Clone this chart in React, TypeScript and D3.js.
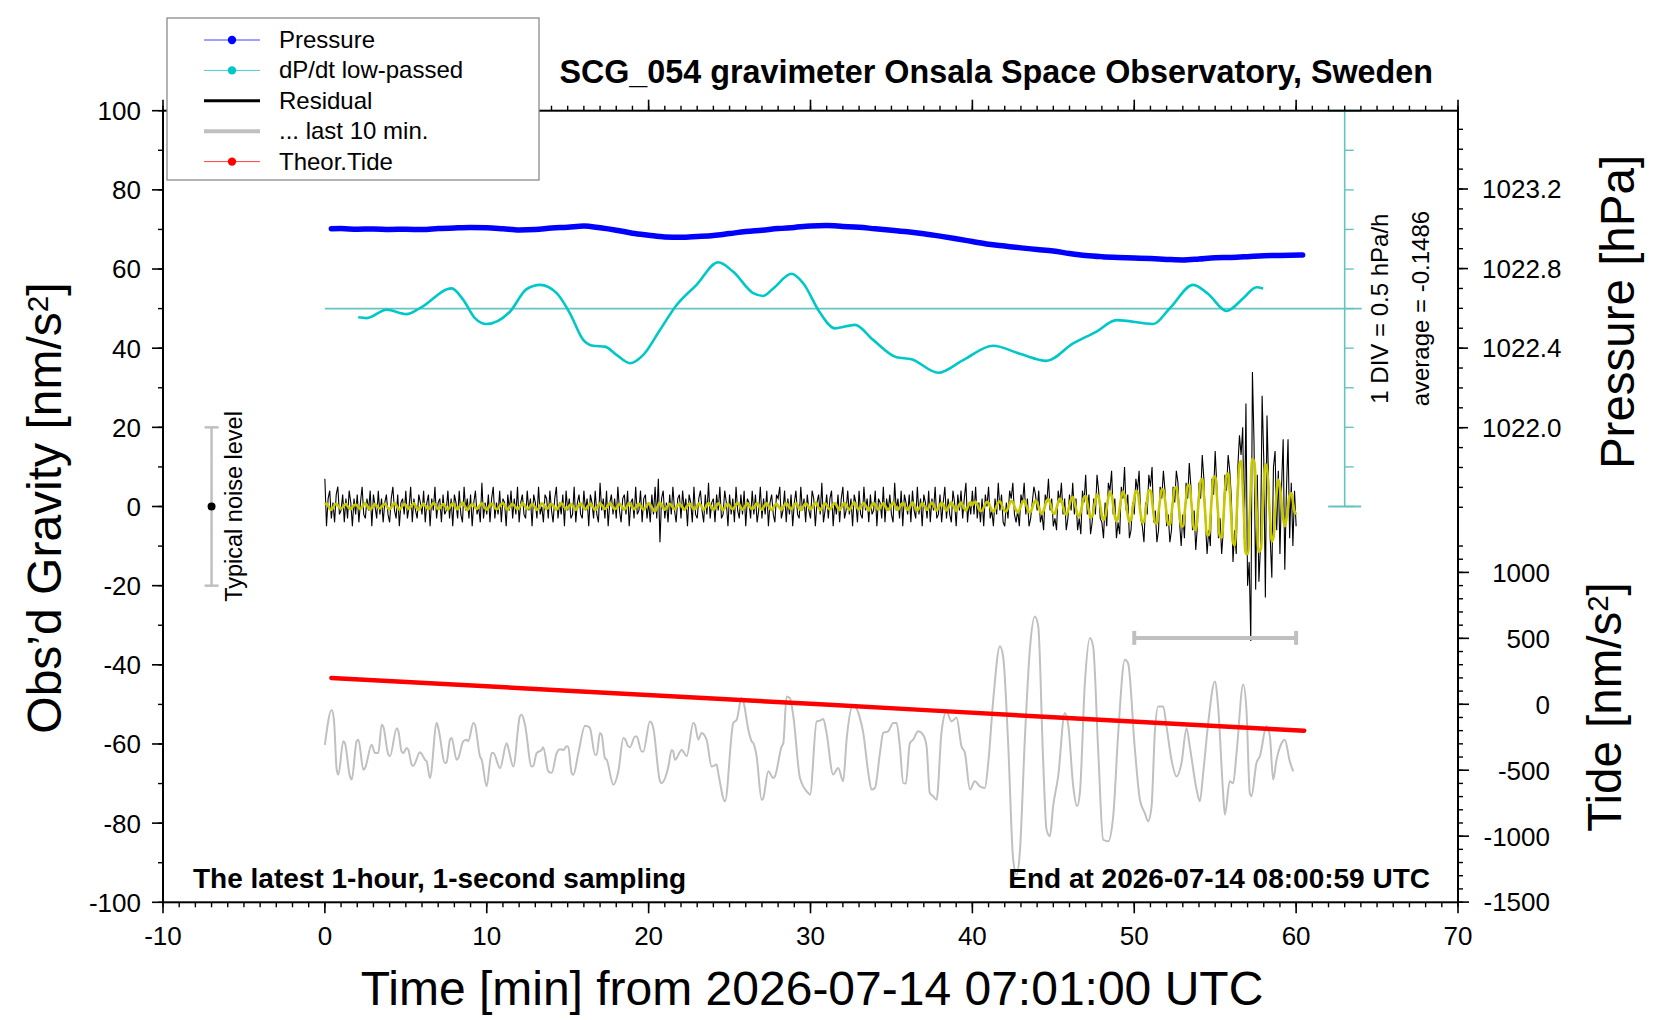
import React from "react";
import * as d3 from "d3";

// ---- data ----

// residual gravity [nm/s^2], one value per 0.1 min from 0 to 60 min
const residualStep = 0.1;
const residual = [
  7, -5, 2, 4, -3, 1, -4, 3, 5, -2, -1, 3, -4, 2, -3, 4, 1, -5, 2, -2,
  3, -4, 1, 5, -2, -3, 2, -1, 4, -5, 3, 0, -3, 4, -2, 2, -4, 1, 3, -2,
  -4, 2, 5, -1, -3, 3, -5, 1, 2, -2, 4, -3, 0, 5, -4, 2, -1, -3, 3, 1,
  -2, 4, -4, 1, 3, -5, 2, -1, 5, -3, 1, 2, -4, 3, -2, -1, 4, -3, 2, -5,
  3, 1, -3, 4, -2, -4, 5, -1, 2, -3, 3, -5, 1, 4, -2, 0, -4, 6, -3, 1,
  -2, 3, -4, 2, 5, -3, 1, -2, 4, -4, 2, 1, -5, 3, -1, 4, -3, 2, -2, 5,
  -4, 1, 3, -2, -3, 4, -1, 2, -5, 3, 1, -3, 5, -2, 0, -4, 3, 2, -3, 4,
  -1, -4, 2, 5, -3, 1, -2, 3, -5, 4, -1, 2, -3, -2, 5, -4, 1, 3, -2, -3,
  4, -1, 2, -5, 3, 1, -3, 4, -2, -4, 6, -1, 2, -3, 4, -5, 1, 3, -2, 2,
  -3, 5, -1, -4, 2, 3, -2, 4, -5, 1, 2, -3, 5, -2, -1, 4, -4, 2, 3, -3,
  1, -4, 3, -2, 5, -3, 7, -9, 2, 4, -3, 1, -4, 3, -2, 5, -1, -4, 2, 3,
  -3, 4, -1, 2, -5, 3, 1, -4, 5, -2, -3, 2, 4, -1, -4, 3, -2, 6, -3, 1,
  2, -4, 3, -1, 5, -3, -2, 4, 1, -5, 3, -2, 2, -4, 5, -1, -3, 3, -2, 4,
  -5, 2, 1, -3, 4, -2, 3, -4, -1, 5, -3, 2, -2, 4, -5, 1, 3, -2, -4, 3,
  2, 5, -3, -1, 4, -4, 2, -2, 3, -5, 1, 4, -2, -3, 5, -1, 2, -4, 3, -1,
  -3, 4, 2, -5, 1, 3, -2, 6, -4, -1, 3, -3, 2, 4, -5, 1, -2, 3, -4, 2,
  5, -3, -1, 4, -2, 2, -5, 3, 1, -4, 4, -2, -3, 5, -1, 2, -4, 3, -2, -1,
  4, -5, 2, 1, -3, 5, -4, 2, -1, 3, -2, -4, 6, -1, 2, -3, 4, -5, 3, 1,
  -2, 3, -4, 4, -1, -3, 5, -2, 2, -5, 3, 1, -3, 4, -4, 2, -1, 5, -3, -2,
  3, -4, 1, 5, -3, 2, -2, -4, 4, 1, -5, 3, -1, 4, -3, 2, 6, -4, 1, -2,
  4, -2, 5, -3, 1, -4, 2, -5, 3, 0, 5, -3, -1, -5, 2, -2, 6, -1, 3, -4,
  -5, 1, -3, 4, 2, 6, -2, -4, -1, -5, 3, 1, 6, -2, 2, -5, -3, 1, 5, 3,
  -1, 4, -4, -2, -6, 3, 1, 7, -1, 2, -5, -3, -6, 4, 1, 6, -2, 2, -6, -3,
  3, -1, 6, -2, 2, -6, -3, -7, 4, 1, 8, -2, 3, -7, -4, 2, -2, 8, 4, -3,
  -4, -8, 1, -5, 6, 4, 9, -2, 2, -8, -4, -7, 5, 2, 10, -1, 3, -8, -6, 1,
  -2, 7, 4, 9, -3, -5, -9, 1, -2, 8, 5, 10, -4, -1, -9, -6, 5, 2, 9, 4,
  -5, -2, -9, -6, 5, 1, 9, 6, -4, -10, -2, -8, 6, 2, 11, 5, -6, -1, -11, -5,
  6, 2, 13, 7, -4, -12, -6, -10, 7, 3, 14, 5, -8, -3, -12, -6, 8, 4, 13, 9,
  2, -14, -6, -12, 10, 18, 13, 20, -8, 26, -20, -14, -34, 34, 16, -21, 8, -19, -10, 28,
  12, -23, 23, 6, -8, -18, 10, 14, -6, 9, -12, 5, 17, -16, 4, 17, -8, 6, -10, 4,
  -5,
];

// low-passed residual (yellow), same time step
const lowPassed = [
  0.5, 0.8, 0.2, -0.6, -0.9, -0.3, 0.4, 0.7, 0.3, -0.2, -0.5, -0.2, 0.3, 0.6, 0.1, -0.4, -0.7, -0.2, 0.3, 0.5,
  0.2, -0.3, -0.6, -0.1, 0.5, 0.8, 0.3, -0.4, -0.8, -0.3, 0.3, 0.6, 0.2, -0.3, -0.5, 0.0, 0.4, 0.7, 0.2, -0.4,
  -0.7, -0.2, 0.4, 0.9, 0.4, -0.3, -0.8, -0.4, 0.2, 0.6, 0.3, -0.2, -0.6, -0.1, 0.5, 0.8, 0.2, -0.5, -0.9, -0.3,
  0.4, 0.7, 0.2, -0.3, -0.6, -0.2, 0.3, 0.9, 0.5, -0.2, -0.7, -0.4, 0.2, 0.6, 0.3, -0.3, -0.8, -0.3, 0.4, 0.8,
  0.3, -0.4, -0.7, -0.2, 0.5, 1.0, 0.4, -0.3, -0.9, -0.5, 0.2, 0.7, 0.3, -0.2, -0.6, -0.1, 0.4, 0.8, 0.3, -0.4,
  -0.8, -0.3, 0.3, 0.7, 0.4, -0.2, -0.7, -0.5, 0.1, 0.6, 0.9, 0.3, -0.4, -0.8, -0.2, 0.4, 0.6, 0.2, -0.3, -0.7,
  -0.3, 0.3, 0.8, 0.5, -0.1, -0.6, -0.4, 0.2, 0.7, 0.3, -0.3, -0.9, -0.5, 0.2, 0.8, 0.6, -0.1, -0.6, -0.3, 0.3,
  0.7, 0.3, -0.3, -0.8, -0.4, 0.3, 0.9, 0.5, -0.2, -0.7, -0.3, 0.2, 0.6, 0.2, -0.4, -0.8, -0.3, 0.4, 0.8, 0.3,
  -0.3, -0.7, -0.2, 0.4, 0.7, 0.2, -0.4, -0.9, -0.4, 0.3, 0.8, 0.4, -0.2, -0.6, -0.3, 0.3, 0.9, 0.5, -0.2, -0.7,
  -0.4, 0.2, 0.6, 0.3, -0.3, -0.8, -0.4, 0.3, 0.9, 0.4, -0.3, -0.7, -0.2, 0.4, 0.7, 0.2, -0.4, -0.8, -0.3, 0.3,
  0.8, 0.4, -0.2, -0.9, -1.2, -0.5, 0.4, 1.0, 0.5, -0.3, -0.8, -0.4, 0.3, 0.7, 0.3, -0.3, -0.7, -0.2, 0.4, 0.8,
  0.3, -0.3, -0.8, -0.4, 0.2, 0.7, 0.5, -0.1, -0.7, -0.5, 0.2, 0.8, 0.4, -0.3, -0.8, -0.3, 0.4, 0.9, 0.4, -0.3,
  -0.8, -0.4, 0.3, 0.8, 0.3, -0.4, -0.9, -0.3, 0.4, 0.7, 0.2, -0.4, -0.7, -0.2, 0.5, 0.9, 0.4, -0.3, -0.8, -0.3,
  0.3, 0.8, 0.4, -0.3, -0.7, -0.3, 0.4, 0.9, 0.3, -0.4, -0.8, -0.2, 0.5, 0.8, 0.2, -0.5, -0.9, -0.3, 0.4, 0.7,
  0.2, -0.4, -0.8, -0.3, 0.4, 0.9, 0.4, -0.3, -0.7, -0.2, 0.4, 0.8, 0.3, -0.4, -0.9, -0.4, 0.3, 0.8, 0.4, -0.2,
  -0.7, -0.3, 0.4, 1.0, 0.5, -0.3, -0.9, -0.4, 0.3, 0.8, 0.3, -0.4, -0.8, -0.2, 0.5, 0.9, 0.3, -0.4, -0.9, -0.3,
  0.4, 0.9, 0.4, -0.4, -0.9, -0.3, 0.5, 1.0, 0.4, -0.4, -0.8, -0.2, 0.5, 0.9, 0.3, -0.5, -1.0, -0.4, 0.4, 0.9,
  0.4, -0.3, -0.8, -0.3, 0.4, 0.8, 0.2, -0.5, -0.9, -0.3, 0.5, 1.0, 0.4, -0.4, -0.9, -0.3, 0.5, 0.9, 0.3, -0.4,
  -0.9, -0.4, 0.4, 1.0, 0.5, -0.4, -1.0, -0.5, 0.3, 0.9, 0.4, -0.4, -0.9, -0.3, 0.5, 1.0, 0.4, -0.5, -1.0, -0.4,
  0.4, 1.0, 0.5, -0.4, -1.0, -0.4, 0.5, 1.1, 0.4, -0.5, -1.1, -0.4, 0.5, 1.0, 0.3, -0.5, -1.0, -0.3, 0.6, 1.1,
  0.3, 1.0, 1.2, 0.5, -0.5, -1.1, -1.0, -0.2, 0.7, 1.2, 0.9, 0.0, -0.9, -1.3, -0.8, 0.2, 1.0, 1.3, 0.6, -0.4,
  -1.2, -1.2, -0.3, 0.7, 1.4, 1.1, 0.1, -1.0, -1.5, -0.9, 0.2, 1.2, 1.5, 0.7, -0.5, -1.4, -1.3, -0.3, 0.9, 1.5,
  1.0, -0.2, -1.4, -1.8, -1.0, 0.4, 1.6, 1.9, 0.9, -0.6, -1.8, -1.7, -0.4, 1.1, 2.0, 1.5, 0.0, -1.5, -2.1, -1.2,
  0.4, 1.9, 2.4, 1.3, -0.5, -2.1, -2.5, -1.2, 0.8, 2.4, 2.6, 1.0, -1.2, -2.8, -2.5, -0.6, 1.6, 3.0, 2.4, 0.2,
  -2.2, -3.4, -2.6, -0.2, 2.3, 3.6, 2.8, 0.3, -2.4, -3.7, -2.9, -0.4, 2.4, 3.8, 3.0, 0.5, -2.3, -3.9, -3.3, -0.8,
  2.0, 3.9, 3.6, 1.2, -1.9, -4.0, -3.8, -1.3, 1.8, 4.1, 4.0, 1.4, -1.9, -4.2, -4.1, -1.5, 1.8, 4.3, 4.2, 1.6,
  -1.8, -4.4, -4.5, -1.8, 1.7, 4.6, 4.8, 2.0, -1.8, -4.8, -5.0, -2.1, 1.9, 5.2, 5.4, 2.2, -2.0, -5.6, -5.9, -2.4,
  2.2, 6.4, 7.0, 3.0, -2.5, -7.0, -7.2, -2.8, 2.8, 7.3, 7.5, 3.0, -3.0, -7.6, -7.8, -3.2, 3.0, 7.8, 8.4, 3.8,
  -3.2, -9.0, -9.8, -4.2, 3.8, 10.5, 11.5, 5.0, -4.5, -11.8, -12.0, -5.0, 4.8, 12.0, 11.5, 4.5, -5.0, -11.4, -11.0, -4.0,
  5.0, 10.8, 9.5, 3.2, -4.0, -8.8, -7.8, -2.0, 3.5, 6.8, 5.2, 0.8, -3.0, -5.0, -3.2, 0.2, 2.8, 3.4, 1.2, -1.2,
  -2.0,
];

// air pressure [hPa] : [minute, value]
const pressure: [number, number][] = [
  [0.4, 1023.0], [1, 1023.001], [2, 1022.998], [3, 1022.999], [4, 1022.997], [5, 1022.998],
  [6, 1022.996], [7, 1023.001], [8, 1023.004], [9, 1023.006], [10, 1023.005], [11, 1023.0],
  [12, 1022.994], [13, 1022.996], [14, 1023.004], [15, 1023.008], [16, 1023.014], [17, 1023.005],
  [18, 1022.993], [19, 1022.978], [20, 1022.968], [21, 1022.959], [22, 1022.957], [23, 1022.961],
  [24, 1022.966], [25, 1022.976], [26, 1022.986], [27, 1022.993], [28, 1023.001], [29, 1023.007],
  [30, 1023.014], [31, 1023.016], [32, 1023.012], [33, 1023.008], [34, 1023.0], [35, 1022.993],
  [36, 1022.985], [37, 1022.975], [38, 1022.963], [39, 1022.95], [40, 1022.936], [41, 1022.922],
  [42, 1022.913], [43, 1022.904], [44, 1022.896], [45, 1022.888], [46, 1022.876], [47, 1022.866],
  [48, 1022.86], [49, 1022.856], [50, 1022.853], [51, 1022.85], [52, 1022.846], [53, 1022.843],
  [54, 1022.848], [55, 1022.855], [56, 1022.856], [57, 1022.86], [58, 1022.865], [59, 1022.866],
  [60.4, 1022.868],
];

// dP/dt low-passed [hPa/h] : [minute, value]
const dPdt: [number, number][] = [
  [2.06, -0.11], [2.58, -0.12], [3.82, -0.015], [5.05, -0.07], [5.87, 0.005], [7.83, 0.255],
  [8.55, 0.11], [9.27, -0.12], [9.99, -0.195], [11.43, -0.04], [12.46, 0.245], [13.29, 0.3],
  [14.32, 0.195], [15.14, -0.06], [15.96, -0.395], [16.58, -0.47], [17.3, -0.48], [18.02, -0.585],
  [18.85, -0.69], [19.67, -0.585], [20.7, -0.27], [21.73, 0.045], [22.96, 0.3], [24.3, 0.585],
  [25.23, 0.465], [26.46, 0.195], [27.08, 0.16], [27.7, 0.255], [28.83, 0.44], [29.55, 0.32],
  [30.58, -0.05], [31.51, -0.25], [32.74, -0.205], [33.87, -0.395], [35.32, -0.615], [36.24, -0.64],
  [37.89, -0.81], [39.43, -0.65], [41.28, -0.47], [42.93, -0.57], [44.58, -0.66], [46.22, -0.44],
  [47.67, -0.29], [48.9, -0.145], [51.17, -0.195], [52.2, 0.005], [53.64, 0.3], [54.57, 0.185],
  [55.7, -0.03], [56.73, 0.13], [57.55, 0.27], [57.96, 0.255],
];

// residual of the last 10 minutes stretched over the hour (grey), gravity axis units
const lastTen: [number, number][] = [
  [0.0, -60.2], [0.42, -51.4], [0.56, -53.9], [0.73, -66.5], [0.83, -67.8], [1.14, -59.3], [1.24, -59.8],
  [1.55, -68.2], [1.66, -69.0], [1.96, -59.3], [2.07, -58.9], [2.38, -66.5], [2.48, -66.1], [2.89, -60.2],
  [3.1, -62.3], [3.3, -62.3], [3.51, -55.1], [3.61, -55.6], [3.92, -62.7], [4.02, -63.1], [4.44, -56.0],
  [4.54, -56.8], [4.74, -61.9], [4.85, -62.3], [5.05, -61.0], [5.16, -61.5], [5.36, -65.2], [5.46, -65.5],
  [5.88, -62.1], [5.98, -62.5], [6.19, -64.0], [6.29, -64.4], [6.49, -68.6], [6.91, -54.7], [7.01, -56.0],
  [7.42, -64.8], [7.52, -64.6], [7.73, -58.9], [7.83, -58.5], [8.14, -64.0], [8.24, -63.6], [8.55, -59.3],
  [8.76, -58.9], [8.86, -59.3], [9.17, -54.7], [9.27, -55.1], [9.58, -63.1], [9.69, -64.0], [9.99, -70.7],
  [10.3, -62.3], [10.41, -62.3], [10.82, -66.1], [11.23, -59.8], [11.33, -61.0], [11.64, -65.7], [12.05, -53.0],
  [12.16, -52.6], [12.36, -55.1], [12.77, -65.7], [12.88, -65.5], [13.08, -62.3], [13.39, -61.5], [13.49, -60.8],
  [13.8, -66.9], [14.01, -67.3], [14.32, -62.3], [14.52, -61.3], [14.73, -61.5], [14.94, -60.6], [15.04, -60.8],
  [15.24, -67.3], [15.35, -67.8], [15.66, -62.3], [16.07, -55.4], [16.27, -55.6], [16.38, -56.0], [16.69, -62.7],
  [16.79, -62.7], [16.99, -57.2], [17.1, -57.7], [17.3, -63.6], [17.41, -64.0], [17.82, -70.3], [18.13, -66.9],
  [18.44, -58.5], [18.54, -58.8], [18.74, -60.6], [18.85, -60.8], [19.16, -58.1], [19.26, -58.1], [19.57, -61.9],
  [19.67, -61.9], [20.08, -54.3], [20.19, -54.7], [20.29, -56.0], [20.7, -69.4], [20.8, -69.9], [21.22, -65.7],
  [21.42, -61.5], [21.52, -61.9], [21.63, -64.0], [22.04, -61.5], [22.14, -61.9], [22.35, -63.1], [22.76, -54.7],
  [22.86, -55.1], [23.07, -58.9], [23.27, -57.2], [23.58, -58.9], [23.89, -65.7], [24.2, -65.2], [24.3, -67.3],
  [24.72, -74.5], [25.23, -54.7], [25.44, -53.9], [25.74, -48.4], [25.85, -49.2], [26.16, -56.4], [26.36, -59.3],
  [26.47, -59.8], [26.67, -63.1], [26.98, -74.1], [27.08, -73.7], [27.39, -66.9], [27.7, -68.6], [27.8, -68.2],
  [28.22, -60.6], [28.32, -59.8], [28.52, -48.0], [28.73, -48.4], [28.94, -53.0], [29.35, -68.6], [29.86, -72.4],
  [29.97, -72.8], [30.38, -54.3], [30.58, -54.1], [30.79, -53.7], [30.99, -57.2], [31.4, -67.7], [31.71, -66.1],
  [32.02, -69.4], [32.23, -58.9], [32.64, -50.1], [33.05, -53.4], [33.26, -57.2], [33.57, -67.3], [33.77, -71.5],
  [33.98, -71.1], [34.29, -62.3], [34.49, -57.2], [34.8, -56.8], [35.11, -54.7], [35.32, -54.7], [35.52, -60.6],
  [35.73, -69.9], [35.89, -70.0], [36.14, -59.8], [36.34, -58.9], [36.65, -56.8], [36.96, -57.7], [37.17, -60.6],
  [37.37, -72.4], [37.58, -73.2], [37.79, -74.1], [38.09, -57.2], [38.4, -51.8], [38.71, -54.3], [39.02, -53.4],
  [39.33, -60.6], [39.54, -62.3], [39.85, -71.5], [40.15, -69.4], [40.46, -70.7], [40.77, -71.1], [40.98, -64.8],
  [41.29, -48.8], [41.7, -35.3], [41.9, -37.9], [42.21, -59.8], [42.52, -89.2], [42.73, -93.0], [42.93, -87.5],
  [43.24, -58.9], [43.55, -36.2], [43.86, -27.8], [44.07, -30.3], [44.37, -64.0], [44.58, -81.6], [44.79, -83.3],
  [44.99, -75.7], [45.3, -68.2], [45.71, -52.2], [45.92, -55.1], [46.23, -70.7], [46.47, -75.7], [46.64, -72.4],
  [46.95, -44.6], [47.26, -33.2], [47.46, -35.3], [47.77, -61.4], [48.08, -84.2], [48.39, -84.6], [48.7, -78.3],
  [49.01, -57.2], [49.42, -38.7], [49.62, -39.6], [50.04, -61.4], [50.35, -74.1], [50.65, -77.4], [50.86, -79.5],
  [51.07, -75.7], [51.27, -57.2], [51.48, -50.5], [51.79, -50.5], [51.99, -55.5], [52.3, -64.0], [52.61, -68.2],
  [52.92, -64.8], [53.23, -56.0], [53.43, -60.6], [53.85, -71.5], [54.05, -74.5], [54.26, -67.3], [54.57, -54.7],
  [54.98, -44.2], [55.18, -50.5], [55.49, -72.4], [55.6, -77.9], [55.9, -69.4], [56.11, -69.9], [56.32, -62.3],
  [56.73, -45.0], [56.93, -51.3], [57.14, -72.4], [57.24, -73.2], [57.55, -64.8], [57.76, -63.1], [58.17, -55.5],
  [58.38, -58.1], [58.58, -69.0], [58.79, -64.0], [59.1, -59.8], [59.3, -58.9], [59.61, -64.4], [59.82, -66.9],
];

// theoretical tide [nm/s^2] : [minute, value]
const tide: [number, number][] = [
  [0.4, 200], [15, 103], [30.6, 0], [45, -98], [60.5, -200],
];

const gravityTicks = d3.range(-100, 101, 20);
const gravityMinor = d3.range(-100, 101, 10);
const minuteTicks = d3.range(-10, 71, 10);
const minuteMinor = d3.range(-10, 71, 1);
const pressureTicks = [1022.0, 1022.4, 1022.8, 1023.2];
const pressureMinor = d3.range(1021.6, 1023.55, 0.1);
const tideTicks = d3.range(-1500, 1001, 500);
const tideMinor = d3.range(-1500, 1201, 100);
const divTicks = d3.range(-2.5, 2.51, 0.5);

const FONT = "'Liberation Sans', Arial, Helvetica, sans-serif";

export default function App() {
  const x = d3.scaleLinear().domain([-10, 70]).range([163, 1458]);
  const yG = d3.scaleLinear().domain([-100, 100]).range([902.3, 110.7]);
  const yP = d3.scaleLinear().domain([1022.0, 1023.2]).range([427.7, 189]);
  const yT = d3.scaleLinear().domain([-1500, 1000]).range([902.1, 572.4]);
  const yD = d3.scaleLinear().domain([-2.5, 2.5]).range([yG(0), yG(100)]);

  const [x0, x1] = x.range();
  const [yb, yt] = yG.range();

  const gLine = d3.line<[number, number]>().x(d => x(d[0])).y(d => yG(d[1]));
  const smoothG = d3.line<[number, number]>().x(d => x(d[0])).y(d => yG(d[1])).curve(d3.curveMonotoneX);
  const pLine = d3.line<[number, number]>().x(d => x(d[0])).y(d => yP(d[1])).curve(d3.curveMonotoneX);
  const dLine = d3.line<[number, number]>().x(d => x(d[0])).y(d => yD(d[1])).curve(d3.curveMonotoneX);
  const tLine = d3.line<[number, number]>().x(d => x(d[0])).y(d => yT(d[1])).curve(d3.curveMonotoneX);
  const yLine = d3.line<[number, number]>().x(d => x(d[0])).y(d => yG(d[1])).curve(d3.curveCatmullRom);

  const resPts = residual.map((v, i) => [i * residualStep, v] as [number, number]);
  const lowPts = lowPassed.map((v, i) => [i * residualStep, v] as [number, number]);

  const divX = x(63);
  const legend = [
    { label: "Pressure", color: "#0000ff", width: 1, dot: true, lineColor: "#4040ff" },
    { label: "dP/dt low-passed", color: "#00c8c8", width: 1, dot: true, lineColor: "#40d0d0" },
    { label: "Residual", color: "#000000", width: 3, dot: false, lineColor: "#000000" },
    { label: "... last 10 min.", color: "#c0c0c0", width: 4, dot: false, lineColor: "#c0c0c0" },
    { label: "Theor.Tide", color: "#ff0000", width: 1, dot: true, lineColor: "#ff4040" },
  ];

  const sup = (base: string) => (
    <>
      <tspan>{base}</tspan>
      <tspan dy="-0.45em" fontSize="0.62em">2</tspan>
      <tspan dy="0.28em">]</tspan>
    </>
  );

  return (
    <svg
      width={1660}
      height={1020}
      style={{ position: "absolute", left: 0, top: 0, background: "#fff" }}
      fontFamily={FONT}
    >
      <rect width={1660} height={1020} fill="#fff" />

      {/* dP/dt zero line and scale */}
      <line x1={x(0)} x2={x(64.05)} y1={yD(0)} y2={yD(0)} stroke="#66c4c0" strokeWidth={1.6} />
      <line x1={divX} x2={divX} y1={yD(-2.5)} y2={yD(2.5)} stroke="#66c4c0" strokeWidth={1.6} />
      {divTicks.map(v => (
        <line key={v} x1={divX} x2={divX + 9} y1={yD(v)} y2={yD(v)} stroke="#66c4c0" strokeWidth={1.4} />
      ))}
      {[-2.5, 2.5].map(v => (
        <line key={v} x1={divX - 16.5} x2={divX + 16.5} y1={yD(v)} y2={yD(v)} stroke="#66c4c0" strokeWidth={2} />
      ))}

      {/* series */}
      <path d={dLine(dPdt) ?? ""} fill="none" stroke="#00c8c8" strokeWidth={2.6} />
      <path d={pLine(pressure) ?? ""} fill="none" stroke="#0000ff" strokeWidth={5.5} strokeLinecap="round" strokeLinejoin="round" />
      <path d={gLine(resPts) ?? ""} fill="none" stroke="#000" strokeWidth={1.1} />
      <path d={yLine(lowPts) ?? ""} fill="none" stroke="#c8c800" strokeWidth={2.6} />
      <path d={smoothG(lastTen) ?? ""} fill="none" stroke="#c0c0c0" strokeWidth={2} />
      <path d={tLine(tide) ?? ""} fill="none" stroke="#ff0000" strokeWidth={4.5} strokeLinecap="round" />

      {/* last-10-min bracket */}
      <g stroke="#c0c0c0" strokeWidth={4}>
        <line x1={x(50)} x2={x(60)} y1={yG(-33.2)} y2={yG(-33.2)} />
        <line x1={x(50)} x2={x(50)} y1={yG(-33.2) - 7} y2={yG(-33.2) + 7} />
        <line x1={x(60)} x2={x(60)} y1={yG(-33.2) - 7} y2={yG(-33.2) + 7} />
      </g>

      {/* typical noise level */}
      <g stroke="#c0c0c0" strokeWidth={2.5}>
        <line x1={x(-7)} x2={x(-7)} y1={yG(-20)} y2={yG(20)} />
        <line x1={x(-7) - 7} x2={x(-7) + 7} y1={yG(-20)} y2={yG(-20)} />
        <line x1={x(-7) - 7} x2={x(-7) + 7} y1={yG(20)} y2={yG(20)} />
      </g>
      <circle cx={x(-7)} cy={yG(0)} r={4} fill="#000" />
      <text transform={`translate(242,${yG(0)}) rotate(-90)`} textAnchor="middle" fontSize={23.5}>
        Typical noise level
      </text>

      {/* frame */}
      <rect x={x0} y={yt} width={x1 - x0} height={yb - yt} fill="none" stroke="#000" strokeWidth={2} />

      {/* left axis */}
      {gravityMinor.map(v => (
        <line key={"gm" + v} x1={x0} x2={x0 - 5} y1={yG(v)} y2={yG(v)} stroke="#000" strokeWidth={1.4} />
      ))}
      {gravityTicks.map(v => (
        <g key={"g" + v}>
          <line x1={x0} x2={x0 - 11} y1={yG(v)} y2={yG(v)} stroke="#000" strokeWidth={1.6} />
          <text x={141} y={yG(v)} dy="0.36em" textAnchor="end" fontSize={26}>{v}</text>
        </g>
      ))}

      {/* bottom and top axes */}
      {minuteMinor.map(v => (
        <g key={"mm" + v}>
          <line x1={x(v)} x2={x(v)} y1={yb} y2={yb + 5} stroke="#000" strokeWidth={1.4} />
          <line x1={x(v)} x2={x(v)} y1={yt} y2={yt - 5} stroke="#000" strokeWidth={1.4} />
        </g>
      ))}
      {minuteTicks.map(v => (
        <g key={"m" + v}>
          <line x1={x(v)} x2={x(v)} y1={yb} y2={yb + 11} stroke="#000" strokeWidth={1.6} />
          <line x1={x(v)} x2={x(v)} y1={yt} y2={yt - 11} stroke="#000" strokeWidth={1.6} />
          <text x={x(v)} y={945} textAnchor="middle" fontSize={26}>{v}</text>
        </g>
      ))}

      {/* right axes: pressure and tide */}
      {pressureMinor.map(v => (
        <line key={"pm" + v} x1={x1} x2={x1 + 5} y1={yP(v)} y2={yP(v)} stroke="#000" strokeWidth={1.4} />
      ))}
      {pressureTicks.map(v => (
        <g key={"p" + v}>
          <line x1={x1} x2={x1 + 10} y1={yP(v)} y2={yP(v)} stroke="#000" strokeWidth={1.6} />
          <text x={1482} y={yP(v)} dy="0.36em" fontSize={26}>{v.toFixed(1)}</text>
        </g>
      ))}
      {tideMinor.map(v => (
        <line key={"tm" + v} x1={x1} x2={x1 + 5} y1={yT(v)} y2={yT(v)} stroke="#000" strokeWidth={1.4} />
      ))}
      {tideTicks.map(v => (
        <g key={"t" + v}>
          <line x1={x1} x2={x1 + 11} y1={yT(v)} y2={yT(v)} stroke="#000" strokeWidth={1.6} />
          <text x={1550} y={yT(v)} dy="0.36em" textAnchor="end" fontSize={26}>{v}</text>
        </g>
      ))}

      {/* axis titles */}
      <text transform={`translate(61,508) rotate(-90)`} textAnchor="middle" fontSize={48}>
        <tspan>Obs’d Gravity [</tspan>
        {sup("nm/s")}
      </text>
      <text transform={`translate(1634,312) rotate(-90)`} textAnchor="middle" fontSize={47.5}>
        Pressure [hPa]
      </text>
      <text transform={`translate(1621,707) rotate(-90)`} textAnchor="middle" fontSize={47.5}>
        <tspan>Tide [</tspan>
        {sup("nm/s")}
      </text>
      <text x={812} y={1005} textAnchor="middle" fontSize={48}>
        Time [min] from 2026-07-14 07:01:00 UTC
      </text>

      {/* dP/dt scale notes */}
      <text transform={`translate(1388,${yD(0)}) rotate(-90)`} textAnchor="middle" fontSize={24}>
        1 DIV = 0.5 hPa/h
      </text>
      <text transform={`translate(1429,${yD(0)}) rotate(-90)`} textAnchor="middle" fontSize={24}>
        average = -0.1486
      </text>

      {/* title and notes */}
      <text x={1433} y={83} textAnchor="end" fontSize={32.3} fontWeight="bold">
        SCG_054 gravimeter Onsala Space Observatory, Sweden
      </text>
      <text x={193} y={888} fontSize={28} fontWeight="bold">
        The latest 1-hour, 1-second sampling
      </text>
      <text x={1430} y={888} textAnchor="end" fontSize={28} fontWeight="bold">
        End at 2026-07-14 08:00:59 UTC
      </text>

      {/* legend */}
      <rect x={167} y={18} width={372} height={162} fill="#fff" stroke="#8a8a8a" strokeWidth={1.3} />
      {legend.map((d, i) => {
        const ly = 40 + i * 30.4;
        return (
          <g key={d.label}>
            <line x1={204} x2={260} y1={ly} y2={ly} stroke={d.lineColor} strokeWidth={d.width} />
            {d.dot && <circle cx={232} cy={ly} r={4.2} fill={d.color} />}
            <text x={279} y={ly + 8} fontSize={24}>{d.label}</text>
          </g>
        );
      })}
    </svg>
  );
}
